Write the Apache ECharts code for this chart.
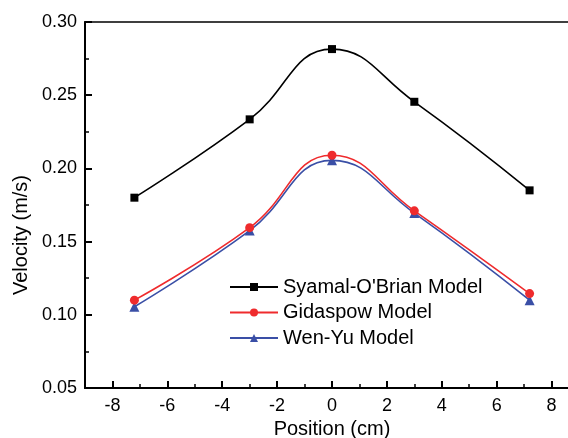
<!DOCTYPE html>
<html>
<head>
<meta charset="utf-8">
<script src="https://cdn.jsdelivr.net/npm/echarts@6/dist/echarts.min.js"></script>
<style>
  html, body { margin: 0; padding: 0; background: #fff; }
  #chart { width: 568px; height: 438px; }
</style>
</head>
<body>
<div id="chart"></div>
<script>
// Radial positions (cm) and velocity profiles (m/s) for each drag model
const positions = [-7.2, -3, 0, 3, 7.2];
const syamalOBrian = [0.180, 0.2335, 0.2815, 0.2455, 0.185];
const gidaspow = [0.110, 0.1595, 0.209, 0.171, 0.1145];
const wenYu = [0.1055, 0.1575, 0.2055, 0.1695, 0.110];

// Tick positions on the position axis
const xMajorTicks = [-8, -6, -4, -2, 0, 2, 4, 6, 8];
const xMinorTicks = [-9, -7, -5, -3, -1, 1, 3, 5, 7, 9];

const seriesNames = ["Syamal-O'Brian Model", "Gidaspow Model", "Wen-Yu Model"];
const seriesColors = ['#000000', '#ef2b2d', '#3a4fa6'];
const seriesSymbols = ['rect', 'circle', 'triangle'];
const seriesSizes = [8, 9, 10];
const seriesValues = [syamalOBrian, gidaspow, wenYu];

const font = 'Arial, "Liberation Sans", Helvetica, sans-serif';

const chart = echarts.init(document.getElementById('chart'), null, { renderer: 'canvas' });

chart.setOption({
  backgroundColor: '#fff',
  animation: false,
  grid: {
    left: 85, top: 22, width: 494, height: 366,
    outerBoundsMode: 'none', containLabel: false,
    show: true, borderColor: '#000', borderWidth: 1.5, backgroundColor: 'transparent'
  },
  legend: {
    orient: 'vertical',
    left: 229, top: 277, padding: 0,
    itemWidth: 48, itemHeight: 10, itemGap: 5.5,
    textStyle: { fontFamily: font, fontSize: 20, color: '#000', lineHeight: 20 },
    data: seriesNames
  },
  xAxis: [{
    type: 'value', min: -9, max: 9,
    name: 'Position (cm)', nameLocation: 'middle', nameGap: 30,
    nameTextStyle: { fontFamily: font, fontSize: 20, color: '#000' },
    axisLine: { onZero: false, lineStyle: { color: '#000', width: 2 } },
    axisTick: { inside: true, length: 7, customValues: xMajorTicks, lineStyle: { color: '#000', width: 2 } },
    axisLabel: { fontFamily: font, fontSize: 18, color: '#000', margin: 9, customValues: xMajorTicks },
    splitLine: { show: false }
  }, {
    // short ticks at odd positions
    type: 'value', min: -9, max: 9, position: 'bottom',
    axisLine: { show: false },
    axisTick: { inside: true, length: 4, customValues: xMinorTicks, lineStyle: { color: '#000', width: 1.5 } },
    axisLabel: { show: false },
    splitLine: { show: false }
  }],
  yAxis: {
    type: 'value', min: 0.05, max: 0.30, interval: 0.05,
    name: 'Velocity (m/s)', nameLocation: 'middle', nameGap: 47,
    nameTextStyle: { fontFamily: font, fontSize: 20, color: '#000', padding: [0, 60, 0, 0] },
    axisLine: { onZero: false, lineStyle: { color: '#000', width: 2 } },
    axisTick: { inside: true, length: 7, lineStyle: { color: '#000', width: 2 } },
    minorTick: { show: true, splitNumber: 2, length: 4, lineStyle: { color: '#000', width: 1.5 } },
    axisLabel: {
      fontFamily: font, fontSize: 18, color: '#000', margin: 8,
      formatter: v => v.toFixed(2)
    },
    splitLine: { show: false }
  },
  series: seriesValues.map((vals, i) => ({
    name: seriesNames[i],
    type: 'line',
    smooth: 0.46,
    data: positions.map((p, j) => [p, vals[j]]),
    symbol: seriesSymbols[i],
    symbolSize: seriesSizes[i],
    showAllSymbol: true,
    lineStyle: { color: seriesColors[i], width: 1.6 },
    itemStyle: { color: seriesColors[i], borderWidth: 0 },
    z: 10 - i
  }))
});
</script>
</body>
</html>
